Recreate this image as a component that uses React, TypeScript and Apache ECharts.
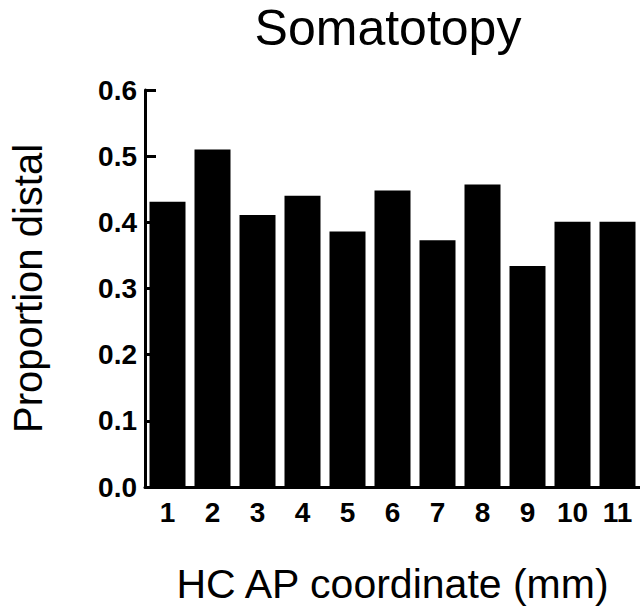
import React, { useEffect, useRef } from "react";
import * as echarts from "echarts";

const categories = ["1", "2", "3", "4", "5", "6", "7", "8", "9", "10", "11"];
const proportionDistal = [0.431, 0.51, 0.411, 0.44, 0.386, 0.448, 0.373, 0.457, 0.334, 0.401, 0.401];
const yTicks = { min: 0, max: 0.6, interval: 0.1 };
const titleText = "Somatotopy";

const FONT = "'Liberation Sans', Arial, Helvetica, sans-serif";

export default function App() {
  const ref = useRef<HTMLDivElement>(null);
  useEffect(() => {
    if (!ref.current) return;
    const chart = echarts.init(ref.current, null, { renderer: "svg" });
    chart.setOption({
      animation: false,
      backgroundColor: "#ffffff",
      graphic: [
        {
          type: "text",
          x: 388,
          y: 3,
          style: {
            text: titleText,
            align: "center",
            verticalAlign: "top",
            fontFamily: FONT,
            fontSize: 50,
            fill: "#000",
          },
        },
      ],
      grid: { left: 136, right: 0, top: 90, bottom: 121, containLabel: false },
      xAxis: {
        type: "category",
        data: categories,
        boundaryGap: true,
        name: "HC AP coordinate (mm)",
        nameLocation: "middle",
        nameGap: 76,
        nameTextStyle: { fontFamily: FONT, fontSize: 41, color: "#000" },
        axisLine: { lineStyle: { color: "#000", width: 3 } },
        axisTick: { inside: true, length: 8, lineStyle: { color: "#000", width: 3 } },
        axisLabel: { fontFamily: FONT, fontSize: 28, fontWeight: "bold", color: "#000", margin: 11 },
        splitLine: { show: false },
      },
      yAxis: {
        type: "value",
        min: yTicks.min,
        max: yTicks.max,
        interval: yTicks.interval,
        name: "Proportion distal",
        nameLocation: "middle",
        nameRotate: 90,
        nameGap: 97,
        nameTextStyle: { fontFamily: FONT, fontSize: 40, color: "#000" },
        axisLine: { show: true, lineStyle: { color: "#000", width: 3 } },
        axisTick: { show: true, inside: true, length: 11, lineStyle: { color: "#000", width: 3 } },
        axisLabel: {
          fontFamily: FONT,
          fontSize: 28,
          fontWeight: "bold",
          color: "#000",
          margin: 8,
          formatter: (v: number) => v.toFixed(1),
        },
        splitLine: { show: false },
      },
      series: [
        {
          type: "bar",
          data: proportionDistal,
          barWidth: 36,
          itemStyle: { color: "#000" },
        },
      ],
    });
    return () => chart.dispose();
  }, []);
  return (
    <div
      ref={ref}
      style={{ position: "absolute", left: 0, top: 0, width: 640, height: 609 }}
    />
  );
}
